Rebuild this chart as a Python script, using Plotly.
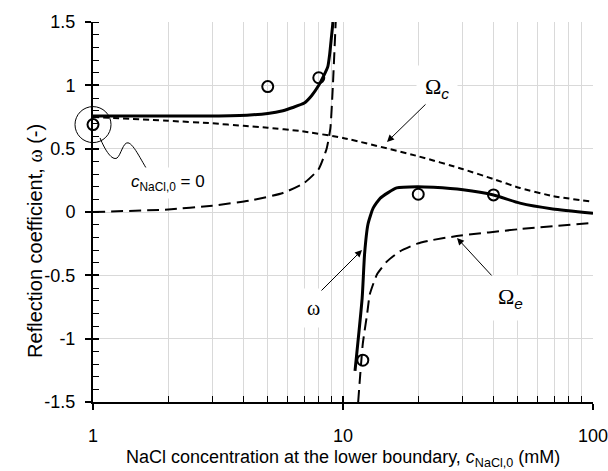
import plotly.graph_objects as go

# ---- data ----
x_omega_low = [1, 2, 3, 4.24, 5.0, 5.75, 6.3, 7.0, 7.5, 8.0, 8.35, 8.7, 8.85, 9.0, 9.12]
y_omega_low = [0.757, 0.757, 0.758, 0.766, 0.778, 0.80, 0.825, 0.86, 0.92, 1.0, 1.07, 1.15, 1.25, 1.39, 1.5]

x_omega_high = [11.17, 11.93, 12.2, 12.59, 13.2, 14.1, 16.4, 19.8, 23, 30.2, 40, 51, 69, 100]
y_omega_high = [-1.255, -0.68, -0.33, -0.095, 0.03, 0.11, 0.19, 0.2, 0.195, 0.175, 0.134, 0.07, 0.024, -0.01]

x_oe_low = [1, 2, 3, 4.24, 5.75, 7, 8, 8.6, 8.9, 9.1, 9.35]
y_oe_low = [0.0, 0.02, 0.05, 0.09, 0.15, 0.23, 0.34, 0.50, 0.66, 0.98, 1.5]

x_oe_high = [11.5, 12.0, 12.5, 12.8, 13.7, 15.0, 16.9, 19.8, 22.3, 28.5, 51, 100]
y_oe_high = [-1.5, -1.04, -0.8, -0.65, -0.49, -0.39, -0.31, -0.25, -0.225, -0.19, -0.135, -0.085]

x_oc = [1, 2, 3, 4, 5, 6.7, 10, 20, 30, 40, 51, 69, 100]
y_oc = [0.75, 0.72, 0.70, 0.68, 0.665, 0.64, 0.585, 0.44, 0.34, 0.26, 0.19, 0.126, 0.08]

x_exp = [1, 5, 8, 12, 20, 40]
y_exp = [0.69, 0.99, 1.06, -1.17, 0.14, 0.135]

x_ticks = [1, 10, 100]
x_minor = [2, 3, 4, 5, 6, 7, 8, 9, 20, 30, 40, 50, 60, 70, 80, 90]
y_ticks = [-1.5, -1, -0.5, 0, 0.5, 1, 1.5]
y_ticktext = ["-1.5", "-1", "-0.5", "0", "0.5", "1", "1.5"]

FONT = "Liberation Sans, Arial, sans-serif"
SERIF = "Liberation Serif, Times New Roman, serif"

fig = go.Figure()

def line(x, y, width, dash):
    fig.add_trace(go.Scatter(x=x, y=y, mode="lines",
                             line=dict(color="black", width=width, dash=dash, shape="spline", smoothing=0.5),
                             showlegend=False, hoverinfo="skip"))

line(x_oc, y_oc, 2, "6px,4px")
line(x_oe_low, y_oe_low, 2, "12px,6px")
line(x_oe_high, y_oe_high, 2, "12px,6px")
line(x_omega_low, y_omega_low, 3, "solid")
line(x_omega_high, y_omega_high, 3, "solid")

fig.add_trace(go.Scatter(x=x_exp, y=y_exp, mode="markers",
                         marker=dict(symbol="circle-open", size=11, color="black", line=dict(width=2, color="black")),
                         showlegend=False, cliponaxis=False))
# highlighting circle around the c=0 point
fig.add_trace(go.Scatter(x=[x_exp[0]], y=[y_exp[0]], mode="markers",
                         marker=dict(symbol="circle-open", size=36, color="black", line=dict(width=1, color="black")),
                         showlegend=False, cliponaxis=False))
# invisible trace for the overlay axes that draw the inner half of the major ticks
fig.add_trace(go.Scatter(x=[10], y=[0], xaxis="x2", yaxis="y2", mode="markers",
                         marker=dict(opacity=0), showlegend=False, hoverinfo="skip"))

fig.add_shape(type="path", xref="paper", yref="paper",
              path="M0.014,0.695 C0.025,0.66 0.038,0.635 0.048,0.642 C0.056,0.65 0.060,0.684 0.070,0.682 C0.082,0.68 0.100,0.625 0.114,0.600",
              line=dict(color="black", width=1))

ann = []
# axis titles
ann.append(dict(x=-0.142, y=0.424, xref="paper", yref="paper", showarrow=False, textangle=-90,
                text="Reflection coefficient, <span style='font-family:Liberation Serif'>ω</span> (-)",
                font=dict(family=FONT, size=20, color="black")))
ann.append(dict(x=0.5, y=-0.15, xref="paper", yref="paper", showarrow=False, yanchor="middle",
                text="NaCl concentration at the lower boundary, <i>c</i><sub>NaCl,0</sub> (mM)",
                font=dict(family=FONT, size=18, color="black")))
# labels
ann.append(dict(x=0.30, y=0.23, xref="x", yref="y", showarrow=False, bgcolor="white", borderpad=4,
                text="<i>c</i><sub>NaCl,0</sub> = 0", font=dict(family=FONT, size=17, color="black")))
ann.append(dict(x=1.376, y=0.98, xref="x", yref="y", showarrow=False, bgcolor="white", borderpad=8,
                text="Ω<sub><span style='font-family:Liberation Sans;font-style:italic'>c</span></sub>",
                font=dict(family=SERIF, size=22, color="black")))
ann.append(dict(x=0.88, y=-0.76, xref="x", yref="y", showarrow=False, bgcolor="white", borderpad=8,
                text="ω", font=dict(family=SERIF, size=20, color="black")))
ann.append(dict(x=1.668, y=-0.68, xref="x", yref="y", showarrow=False, bgcolor="white", borderpad=8,
                text="Ω<sub><span style='font-family:Liberation Sans;font-style:italic'>e</span></sub>",
                font=dict(family=SERIF, size=22, color="black")))
# arrows
for (xt, yt, axp, ayp) in [(1.176, 0.553, 40, -39), (1.076, -0.30, -42, 42), (1.456, -0.205, 36, 39)]:
    ann.append(dict(x=xt, y=yt, xref="x", yref="y", ax=axp, ay=ayp, text="", showarrow=True,
                    arrowhead=2, arrowsize=1.4, arrowwidth=1, arrowcolor="black", standoff=0))

fig.update_layout(
    width=608, height=471,
    margin=dict(l=93, r=15, t=22, b=69),
    paper_bgcolor="white", plot_bgcolor="white",
    font=dict(family=FONT, size=18, color="black"),
    annotations=ann,
    xaxis=dict(type="log", range=[0, 2], tickvals=x_ticks, ticktext=["1", "10", "100"],
               automargin=False, ticklabeloverflow="allow",
               showgrid=True, gridcolor="#d9d9d9", gridwidth=1,
               showline=True, linecolor="black", linewidth=2,
               ticks="outside", ticklen=6, tickcolor="black", tickwidth=1.5, ticklabelstandoff=10,
               minor=dict(tickvals=x_minor, showgrid=True, gridcolor="#d9d9d9", gridwidth=1,
                          ticks="inside", ticklen=6, tickcolor="black", tickwidth=1),
               zeroline=False),
    yaxis=dict(range=[-1.5, 1.5], tickvals=y_ticks, ticktext=y_ticktext,
               automargin=False, ticklabeloverflow="allow",
               showgrid=True, gridcolor="#d9d9d9", gridwidth=1,
               showline=True, linecolor="black", linewidth=2,
               ticks="outside", ticklen=6, tickcolor="black", tickwidth=1.5, ticklabelstandoff=6,
               minor=dict(dtick=0.1, ticks="inside", ticklen=6, tickcolor="black", tickwidth=1, showgrid=False),
               zeroline=False),
    xaxis2=dict(type="log", range=[0, 2], overlaying="x", anchor="y", side="bottom",
                tickvals=x_ticks, showticklabels=False, showgrid=False, zeroline=False, showline=False,
                ticks="inside", ticklen=6, tickcolor="black", tickwidth=1.5, automargin=False),
    yaxis2=dict(range=[-1.5, 1.5], overlaying="y", anchor="x", side="left",
                tickvals=y_ticks, showticklabels=False, showgrid=False, zeroline=False, showline=False,
                ticks="inside", ticklen=6, tickcolor="black", tickwidth=1.5, automargin=False),
)

# remove the browser's default page margin so the 608x471 figure fills the window exactly
fig.write_html("out.html", config={"displayModeBar": False},
               post_script="document.body.style.margin='0px';document.body.style.overflow='hidden';")
